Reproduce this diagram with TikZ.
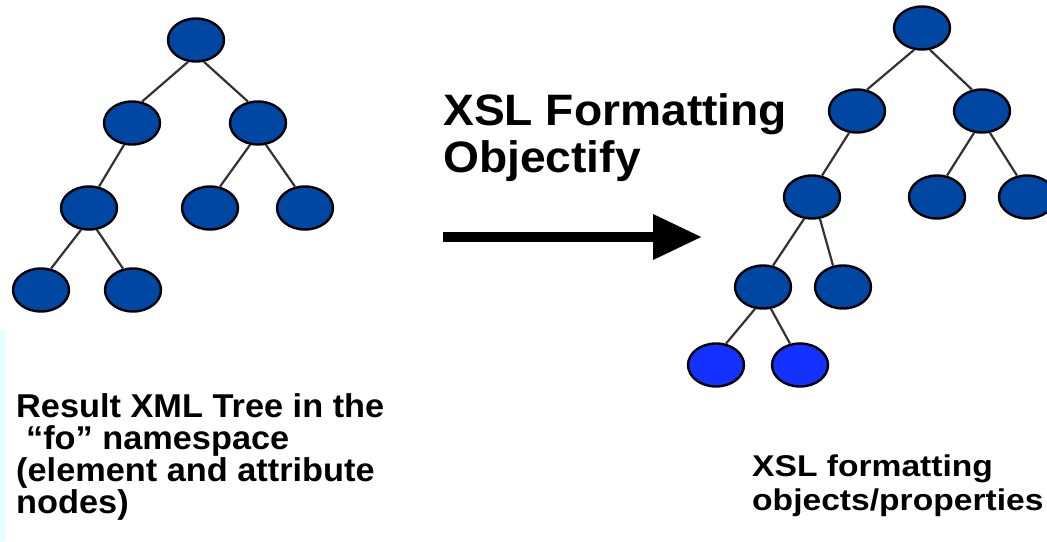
\documentclass[tikz,border=0pt]{standalone}
\usepackage{fontspec}
\setmainfont{Liberation Sans}
\newfontfamily\titlefont[FakeStretch=1.05]{Liberation Sans}
\newfontfamily\capfont[FakeStretch=1.04]{Liberation Sans}
\newfontfamily\widefont[FakeStretch=1.12]{Liberation Sans}
\usetikzlibrary{arrows.meta,shapes.geometric}
\definecolor{nodeblue}{HTML}{0047A3}
\definecolor{newblue}{HTML}{1432FF}
\definecolor{linkgray}{HTML}{333333}
\definecolor{stripcyan}{HTML}{E4FFFF}

\begin{document}
\begin{tikzpicture}[
  x=1pt, y=-1pt,
  tnode/.style={ellipse, draw=black, line width=2.4pt, fill=nodeblue, minimum width=56pt, minimum height=43pt, inner sep=0pt},
  newnode/.style={tnode, fill=newblue},
  link/.style={draw=linkgray, line width=2.2pt},
  txt/.style={align=left, inner sep=0pt, anchor=north west, font=\bfseries}
]
\useasboundingbox (0,0) rectangle (1047,541);
\clip (0,0) rectangle (1047,541);
\fill[stripcyan] (0,330) rectangle (5,541);

\node[tnode] (r0) at (196,40) {};
\node[tnode] (r1a) at (132,123) {};
\node[tnode] (r1b) at (258,123) {};
\node[tnode] (r2a) at (89,208) {};
\node[tnode] (r2b) at (210,208) {};
\node[tnode] (r2c) at (305,208) {};
\node[tnode] (r3a) at (41,290) {};
\node[tnode] (r3b) at (133,290) {};

\node[tnode] (f0) at (922,28) {};
\node[tnode] (f1a) at (857,111) {};
\node[tnode] (f1b) at (982,111) {};
\node[tnode] (f2a) at (812,197) {};
\node[tnode] (f2b) at (937,197) {};
\node[tnode] (f2c) at (1027,197) {};
\node[tnode] (f3a) at (763,287) {};
\node[tnode] (f3b) at (843,287) {};
\node[newnode] (f4a) at (716,365) {};
\node[newnode] (f4b) at (800,365) {};

\foreach \p/\c in {r0/r1a, r1a/r2a, r1b/r2b, r2a/r3a, f0/f1a, f1a/f2a, f1b/f2b, f2a/f3a, f3a/f4a}
  \draw[link] (\p.-110) -- (\c.65);
\foreach \p/\c in {r0/r1b, r1b/r2c, r2a/r3b, f0/f1b, f1b/f2c, f2a/f3b, f3a/f4b}
  \draw[link] (\p.-70) -- (\c.115);

\node[txt, font=\titlefont\bfseries\fontsize{44}{47}\selectfont] (title) at (443,93) {XSL Formatting\\Objectify};
\coordinate (from) at (443,237);
\coordinate (to) at (702,237);
\draw[line width=10pt, -{Triangle[length=49pt, width=43pt]}] (from) -- (to);

\node[txt, font=\capfont\bfseries\fontsize{33}{32}\selectfont] (srccap) at (16,393) {Result XML Tree in the\\\hspace*{0.3em}“fo” namespace\\(element and attribute\\nodes)};
\node[txt, font=\widefont\bfseries\fontsize{30}{34}\selectfont] (dstcap) at (752,455) {XSL formatting\\objects/properties};
\end{tikzpicture}
\end{document}
